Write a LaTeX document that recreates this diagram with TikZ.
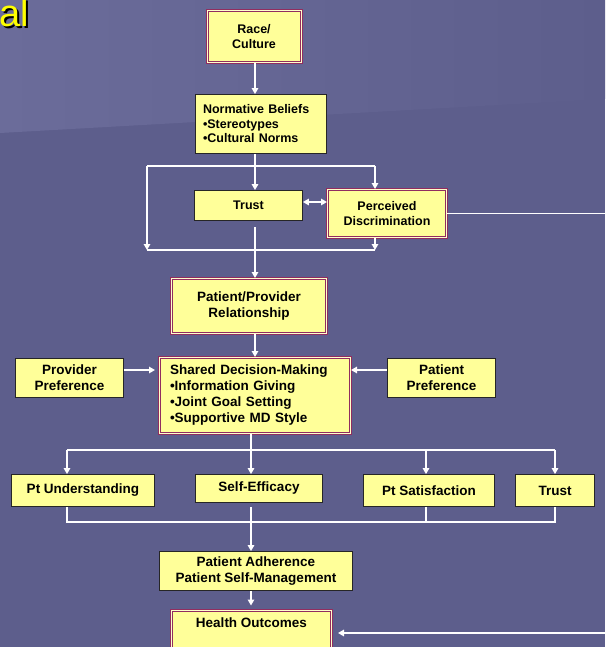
\documentclass[tikz,border=0pt]{standalone}
\usepackage{fontspec}
\setmainfont{Liberation Sans}
\usetikzlibrary{arrows.meta}

\definecolor{slidebg}{RGB}{93,94,140}
\definecolor{slidelight}{RGB}{107,108,154}
\definecolor{boxyellow}{RGB}{255,255,153}
\definecolor{boxmaroon}{RGB}{145,45,95}
\definecolor{boxpale}{RGB}{255,255,204}
\definecolor{titleyellow}{RGB}{255,255,0}

\begin{document}
\begin{tikzpicture}[x=1pt,y=-1pt,
		box/.style={draw=black!85, line width=0.8pt, fill=boxyellow, inner sep=0pt, align=center,
			font=\bfseries\fontsize{13.5}{16}\selectfont},
		topbox/.style={box, font=\bfseries\fontsize{12.5}{14.5}\selectfont},
		dbl/.style={draw=boxmaroon, double=boxpale, double distance=1pt, line width=1pt},
		wire/.style={draw=white, line width=1.4pt},
		flow/.style={wire, -{Triangle[length=6pt,width=6.5pt]}},
		both/.style={wire, {Triangle[length=6pt,width=6.5pt]}-{Triangle[length=6pt,width=6.5pt]}}]
		\useasboundingbox (0,0) rectangle (605,647);
		\clip (0,0) rectangle (605,647);
		% slide background
		\fill[slidebg] (0,0) rectangle (605,647);
		\shade[left color=slidelight, right color=slidebg] (0,0) -- (605,0) -- (605,99) -- (0,133) -- cycle;
		\node[text=black, anchor=base east, inner sep=0pt, font=\fontsize{38}{38}\selectfont] (titleshadow) at (31,29) {al};
		\node[text=titleyellow, anchor=base east, inner sep=0pt, font=\fontsize{38}{38}\selectfont] (title) at (29,27) {al};

		% boxes
		\node[topbox, dbl, minimum width=94pt, minimum height=52pt] (race) at (254,36.5) {Race/\\Culture};
		\node[topbox, minimum width=131pt, minimum height=59pt, text width=116pt, align=left] (norm) at (261,124)
		{Normative Beliefs\\•Stereotypes\\•Cultural Norms};
		\node[topbox, minimum width=108pt, minimum height=30pt] (trust) at (248.5,205.5) {Trust};
		\node[topbox, dbl, minimum width=119pt, minimum height=48pt] (perc) at (387,213.5) {Perceived\\Discrimination};
		\node[box, dbl, minimum width=155pt, minimum height=55pt] (pp) at (249,306) {Patient/Provider\\Relationship};
		\node[box, dbl, minimum width=191pt, minimum height=76pt, text width=170pt, align=left] (sdm) at (255,395.5)
		{Shared Decision-Making\\•Information Giving\\•Joint Goal Setting\\•Supportive MD Style};
		\node[box, minimum width=108pt, minimum height=39pt] (prov) at (69.5,378) {Provider\\Preference};
		\node[box, minimum width=108pt, minimum height=39pt] (patp) at (441.5,378) {Patient\\Preference};
		\node[box, minimum width=143pt, minimum height=32pt] (und) at (83,490.5) {Pt Understanding};
		\node[box, minimum width=127pt, minimum height=28pt] (eff) at (259,488.5) {Self-Efficacy};
		\node[box, minimum width=131pt, minimum height=32pt] (sat) at (429,490.5) {Pt Satisfaction};
		\node[box, minimum width=79pt, minimum height=32pt] (trst) at (555,490.5) {Trust};
		\node[box, minimum width=193pt, minimum height=39pt] (adh) at (256,571) {Patient Adherence\\Patient Self-Management};
		\node[box, dbl, minimum width=160pt, minimum height=46pt] (health) at (251.5,633) {Health Outcomes\\\strut};

		% helper points
		\coordinate (spine) at (255,0);
		\coordinate (lowspine) at (251,0);
		\coordinate (tl) at (147,166);
		\coordinate (tr) at (375,166);
		\coordinate (bl) at (147,250);
		\coordinate (br) at (375,250);
		\coordinate (trustgap) at (255,227);
		\coordinate (offright) at (620,0);
		\coordinate (bus1) at (0,450);
		\coordinate (bus2) at (0,522);
		\coordinate (cund) at (67,0);
		\coordinate (ceff) at (251,0);
		\coordinate (csat) at (426,0);
		\coordinate (ctrst) at (555,0);
		\coordinate (effgap) at (251,507);

		% connectors
		\draw[flow] (race.south -| spine) -- (norm.north -| spine);
		\draw[flow] (norm.south -| spine) -- (trust.north -| spine);
		\draw[wire] (tl) -- (tr);
		\draw[flow] (tr) -- (tr |- perc.north);
		\draw[flow] (tl) -- (bl);
		\draw[wire] (bl) -- (br);
		\draw[flow] (perc.south -| br) -- (br);
		\draw[both] ([yshift=3.5pt]trust.east) -- ([yshift=3.5pt]trust.east -| perc.west);
		\draw[flow] (trustgap) -- (pp.north -| spine);
		\draw[flow] (perc.east) -- (perc.east -| offright) |- ([xshift=6pt]health.east);
		\draw[flow] (pp.south -| spine) -- (sdm.north -| spine);
		\draw[flow, shorten >=4pt] ([yshift=8pt]prov.east) -- ([yshift=8pt]prov.east -| sdm.west);
		\draw[flow] ([yshift=8pt]patp.west) -- ([yshift=8pt]patp.west -| sdm.east);
		\draw[wire] (sdm.south -| lowspine) -- (lowspine |- bus1);
		\draw[wire] (cund |- bus1) -- (ctrst |- bus1);
		\foreach \n in {und,eff,sat,trst}
		\draw[flow] (c\n |- bus1) -- (c\n |- \n.north);
		\draw[wire] (cund |- und.south) -- (cund |- bus2) -- (ctrst |- bus2) -- (ctrst |- trst.south);
		\draw[wire] (csat |- sat.south) -- (csat |- bus2);
		\draw[flow] (effgap) -- (ceff |- adh.north);
		\draw[flow, shorten >=4pt] (adh.south -| lowspine) -- (lowspine |- health.north);
	\end{tikzpicture}
\end{document}
